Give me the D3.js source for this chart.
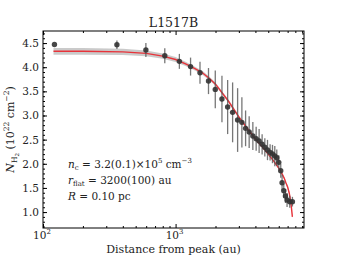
<!DOCTYPE html>
<html>
<head>
<meta charset="utf-8">
<script src="https://cdn.jsdelivr.net/npm/d3@7"></script>
<style>
  body { margin: 0; background: #fff; }
  .axis line { stroke: #000; }
</style>
</head>
<body>
<svg id="chart"></svg>
<script>
const width = 338;
const height = 260;
const serif = "DejaVu Serif";

// observed profile: distance (au), N_H2 (1e22 cm^-2), error
const distances = [122, 361, 597, 829, 1068, 1297, 1528, 1771, 1992, 2237, 2469, 2692, 2936, 3162, 3373, 3589, 3826, 4052, 4266, 4494, 4710, 4934, 5162, 5380, 5600, 5798, 6000, 6210, 6355, 6545, 6740, 6929, 7261, 7606];
const columnValues = [4.47, 4.465, 4.355, 4.237, 4.121, 4.013, 3.885, 3.713, 3.541, 3.341, 3.175, 3.065, 2.906, 2.858, 2.734, 2.657, 2.575, 2.519, 2.471, 2.403, 2.341, 2.285, 2.237, 2.202, 2.160, 2.125, 2.03, 1.856, 1.608, 1.442, 1.333, 1.25, 1.215, 1.215];
const columnErrors = [0.0, 0.089, 0.145, 0.155, 0.155, 0.186, 0.228, 0.27, 0.39, 0.48, 0.56, 0.62, 0.66, 0.52, 0.37, 0.33, 0.29, 0.25, 0.25, 0.21, 0.19, 0.21, 0.17, 0.19, 0.21, 0.17, 0.145, 0.145, 0.166, 0.145, 0.145, 0.145, 0.124, 0.10];

// model fit (red) and its uncertainty band
const modelDistances = [120, 200, 400, 600, 800, 1000, 1200, 1400, 1600, 1800, 2000, 2500, 3000, 3500, 4000, 4500, 5000, 5500, 6000, 6300, 6600, 6800, 7000, 7200, 7400, 7600];
const modelValues = [4.33, 4.33, 4.318, 4.287, 4.23, 4.16, 4.065, 3.97, 3.88, 3.765, 3.65, 3.30, 2.97, 2.72, 2.51, 2.35, 2.20, 2.056, 1.91, 1.81, 1.70, 1.60, 1.52, 1.39, 1.21, 0.90];
const modelBand = [0.07, 0.07, 0.065, 0.06, 0.055, 0.05, 0.045, 0.04, 0.04, 0.035, 0.035, 0.03, 0.03, 0.03, 0.03, 0.03, 0.03, 0.03, 0.03, 0.03, 0.03, 0.03, 0.03, 0.03, 0.03, 0.03];

const yTicks = [1.0, 1.5, 2.0, 2.5, 3.0, 3.5, 4.0, 4.5];
const xMajor = [100, 1000];
const xMinor = [200, 300, 400, 500, 600, 700, 800, 900, 2000, 3000, 4000, 5000, 6000, 7000, 8000, 9000];

const margin = { top: 31, right: 34, bottom: 32, left: 43 };

const svg = d3.select("#chart")
  .attr("width", width)
  .attr("height", height)
  .attr("font-family", serif);

const x = d3.scaleLog()
  .domain([100, 9300])
  .range([margin.left, width - margin.right]);

const y = d3.scaleLinear()
  .domain([0.67, 4.75])
  .range([height - margin.bottom, margin.top]);

const yMinor = d3.range(7, 48).map(d => d / 10).filter(v => v >= 0.67 && v <= 4.75);

// band + model line
const model = modelDistances.map((d, i) => ({ d, v: modelValues[i], b: modelBand[i] }));

svg.append("path")
  .datum(model)
  .attr("fill", "#b8b8b8")
  .attr("fill-opacity", 0.75)
  .attr("d", d3.area()
    .x(d => x(d.d))
    .y0(d => y(d.v - d.b))
    .y1(d => y(d.v + d.b)));

svg.append("path")
  .datum(model)
  .attr("fill", "none")
  .attr("stroke", "#e8333a")
  .attr("stroke-width", 1.4)
  .attr("d", d3.line().x(d => x(d.d)).y(d => y(d.v)));

// error bars and points
const points = distances.map((d, i) => ({ d, v: columnValues[i], e: columnErrors[i] }));

svg.append("g")
  .attr("stroke", "#555")
  .attr("stroke-opacity", 0.8)
  .attr("stroke-width", 1.3)
  .selectAll("line")
  .data(points)
  .join("line")
  .attr("x1", d => x(d.d))
  .attr("x2", d => x(d.d))
  .attr("y1", d => y(d.v - d.e))
  .attr("y2", d => y(d.v + d.e));

svg.append("g")
  .selectAll("circle")
  .data(points)
  .join("circle")
  .attr("cx", d => x(d.d))
  .attr("cy", d => y(d.v))
  .attr("r", 2.7)
  .attr("fill", "#333")
  .attr("fill-opacity", 0.9);

// axes, ticks inward on all sides
const x0 = margin.left, x1 = width - margin.right;
const y0 = height - margin.bottom, y1 = margin.top;

function noLabels(g) { g.selectAll("text").remove(); g.select(".domain").remove(); }

svg.append("g").attr("class", "axis")
  .attr("transform", `translate(0,${y0})`)
  .call(d3.axisBottom(x).tickValues(xMajor).tickSize(-4).tickFormat(""))
  .call(noLabels);
svg.append("g").attr("class", "axis")
  .attr("transform", `translate(0,${y0})`)
  .call(d3.axisBottom(x).tickValues(xMinor).tickSize(-2).tickFormat(""))
  .call(noLabels);
svg.append("g").attr("class", "axis")
  .attr("transform", `translate(0,${y1})`)
  .call(d3.axisTop(x).tickValues(xMajor).tickSize(-4).tickFormat(""))
  .call(noLabels);
svg.append("g").attr("class", "axis")
  .attr("transform", `translate(0,${y1})`)
  .call(d3.axisTop(x).tickValues(xMinor).tickSize(-2).tickFormat(""))
  .call(noLabels);

svg.append("g").attr("class", "axis")
  .attr("transform", `translate(${x0},0)`)
  .call(d3.axisLeft(y).tickValues(yTicks).tickSize(-4).tickFormat(""))
  .call(noLabels);
svg.append("g").attr("class", "axis")
  .attr("transform", `translate(${x0},0)`)
  .call(d3.axisLeft(y).tickValues(yMinor).tickSize(-2).tickFormat(""))
  .call(noLabels);
svg.append("g").attr("class", "axis")
  .attr("transform", `translate(${x1},0)`)
  .call(d3.axisRight(y).tickValues(yTicks).tickSize(-4).tickFormat(""))
  .call(noLabels);
svg.append("g").attr("class", "axis")
  .attr("transform", `translate(${x1},0)`)
  .call(d3.axisRight(y).tickValues(yMinor).tickSize(-2).tickFormat(""))
  .call(noLabels);

svg.append("rect")
  .attr("x", x0).attr("y", y1)
  .attr("width", x1 - x0).attr("height", y0 - y1)
  .attr("fill", "none").attr("stroke", "#000").attr("stroke-width", 1);

// tick labels
svg.append("g")
  .selectAll("text")
  .data(yTicks)
  .join("text")
  .attr("font-family", serif)
  .attr("x", x0 - 4)
  .attr("y", d => y(d) + 4)
  .attr("text-anchor", "end")
  .attr("font-size", 10.5)
  .attr("fill", "#222")
  .text(d => d.toFixed(1));

const xl = svg.append("g")
  .selectAll("text")
  .data(xMajor)
  .join("text")
  .attr("font-family", serif)
  .attr("x", d => x(d) - 1)
  .attr("y", y0 + 11)
  .attr("text-anchor", "middle")
  .attr("font-size", 10.5)
  .attr("fill", "#222");
xl.append("tspan").text("10");
xl.append("tspan").attr("dy", -5).attr("font-size", 7).text(d => Math.round(Math.log10(d)));

// axis titles
svg.append("text")
  .attr("font-family", serif)
  .attr("x", (x0 + x1) / 2)
  .attr("y", 253)
  .attr("text-anchor", "middle")
  .attr("font-size", 11)
  .attr("fill", "#222")
  .text("Distance from peak (au)");

svg.append("text")
  .attr("font-family", serif)
  .attr("x", (x0 + x1) / 2)
  .attr("y", 27)
  .attr("text-anchor", "middle")
  .attr("font-size", 12.5)
  .attr("fill", "#222")
  .text("L1517B");

const yl = svg.append("text")
  .attr("font-family", serif)
  .attr("transform", `translate(14,${(y0 + y1) / 2}) rotate(-90)`)
  .attr("text-anchor", "middle")
  .attr("font-size", 11)
  .attr("fill", "#222");
yl.append("tspan").attr("font-style", "italic").text("N");
yl.append("tspan").attr("dy", 3).attr("font-size", 7.5).text("H");
yl.append("tspan").attr("dy", 1.5).attr("font-size", 5.5).text("2");
yl.append("tspan").attr("dy", -4.5).text(" (10");
yl.append("tspan").attr("dy", -5).attr("font-size", 7.5).text("22");
yl.append("tspan").attr("dy", 5).text(" cm");
yl.append("tspan").attr("dy", -5).attr("font-size", 7.5).text("−2");
yl.append("tspan").attr("dy", 5).text(")");

// fit annotation
const ann = svg.append("g").attr("font-size", 10.5).attr("fill", "#222").attr("font-family", serif);
const a1 = ann.append("text").attr("x", 68).attr("y", 168);
a1.append("tspan").attr("font-style", "italic").text("n");
a1.append("tspan").attr("dy", 2).attr("font-size", 7).text("c");
a1.append("tspan").attr("dy", -2).text(" = 3.2(0.1)×10");
a1.append("tspan").attr("dy", -5).attr("font-size", 7).text("5");
a1.append("tspan").attr("dy", 5).text(" cm");
a1.append("tspan").attr("dy", -5).attr("font-size", 7).text("−3");

const a2 = ann.append("text").attr("x", 68).attr("y", 184);
a2.append("tspan").attr("font-style", "italic").text("r");
a2.append("tspan").attr("dy", 2).attr("font-size", 7).text("flat");
a2.append("tspan").attr("dy", -2).text(" = 3200(100) au");

const a3 = ann.append("text").attr("x", 68).attr("y", 200);
a3.append("tspan").attr("font-style", "italic").text("R");
a3.append("tspan").text(" = 0.10 pc");
</script>
</body>
</html>
